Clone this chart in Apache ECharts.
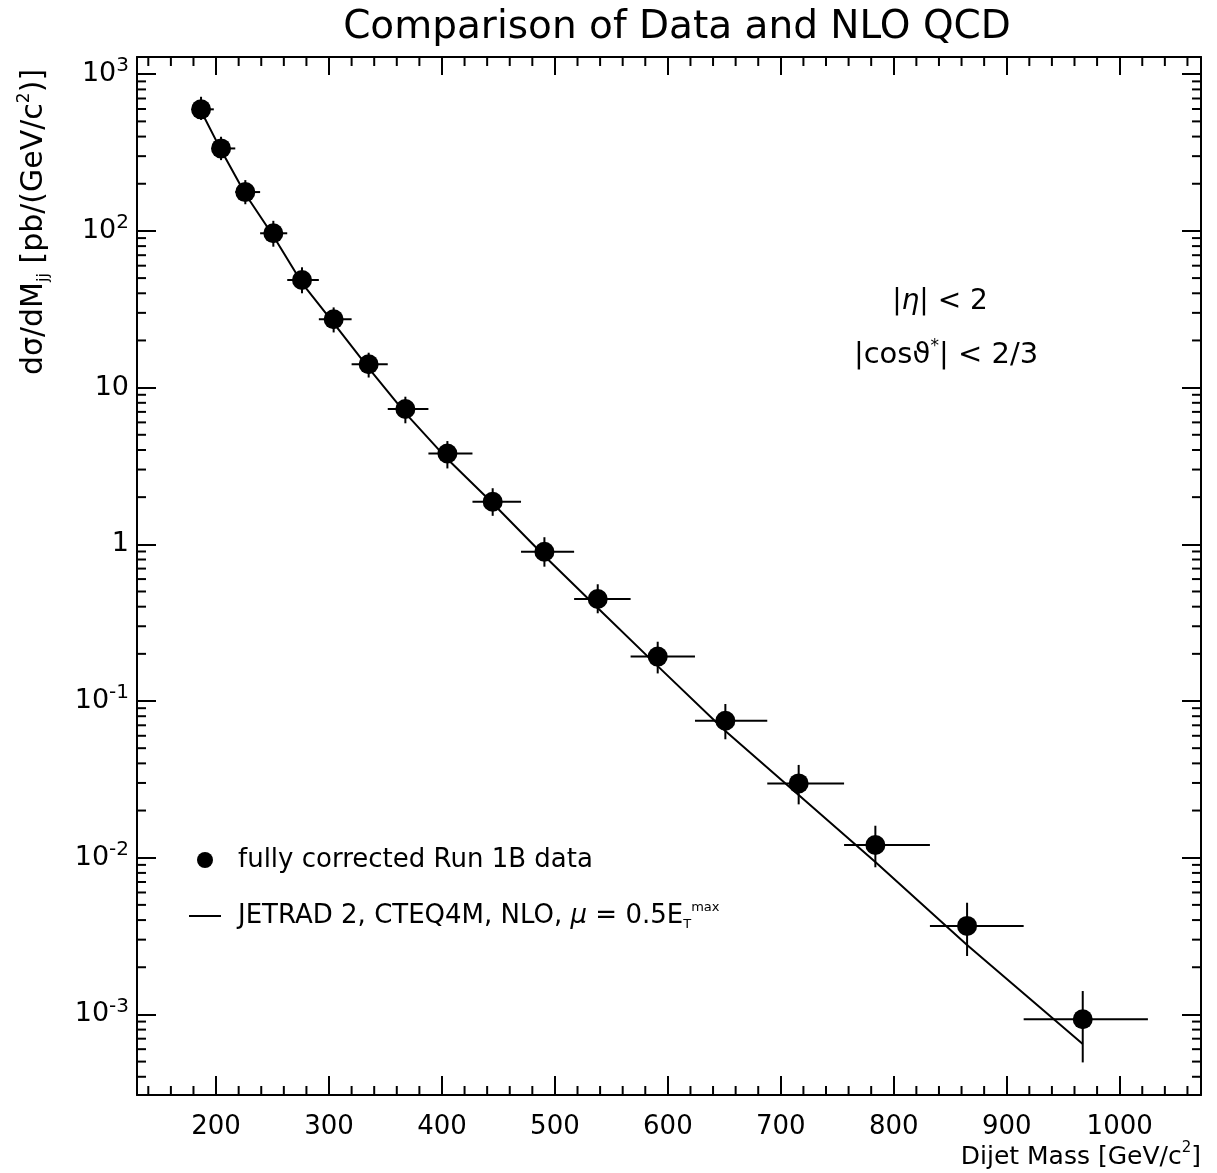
<!DOCTYPE html>
<html>
<head>
<meta charset="utf-8">
<title>Comparison of Data and NLO QCD</title>
<script src="https://cdn.jsdelivr.net/npm/echarts@6/dist/echarts.min.js"></script>
<style>
  html, body { margin: 0; padding: 0; background: #fff; }
  #mybox { width: 1217px; height: 1173px; }
</style>
</head>
<body>
<div id="mybox"></div>
<script>
// dijet mass bins [GeV/c^2] and measured cross section [pb/(GeV/c^2)]
var massCenter = [186.7, 204.4, 225.9, 250.7, 276.1, 304.1, 335.1, 367.6, 404.8, 444.9, 490.7, 537.9, 591.0, 650.9, 715.8, 783.7, 864.9, 967.3];
var massLow    = [180, 198, 217, 239, 263, 291, 320, 352, 388, 427, 470, 517, 567, 624, 688, 756, 832, 915];
var massHigh   = [198, 217, 239, 263, 291, 320, 352, 388, 427, 470, 517, 567, 624, 688, 756, 832, 915, 1025];
var sigma      = [597, 336, 177, 96.6, 48.6, 27.3, 14.1, 7.30, 3.80, 1.87, 0.897, 0.448, 0.192, 0.0748, 0.0298, 0.01205, 0.00367, 0.000931];
var sigmaHigh  = [718, 399, 211, 116, 58.6, 32.5, 16.7, 8.75, 4.56, 2.28, 1.11, 0.556, 0.239, 0.0957, 0.0391, 0.0160, 0.00516, 0.00141];
var sigmaLow   = [511, 283, 148, 79.3, 40.0, 22.5, 11.6, 5.92, 3.05, 1.52, 0.720, 0.363, 0.150, 0.0570, 0.0219, 0.00869, 0.00236, 0.000494];
// JETRAD NLO prediction at the same masses
var nloQcd     = [582, 328, 172, 92.8, 46.5, 25.8, 13.3, 6.88, 3.50, 1.83, 0.842, 0.392, 0.167, 0.0644, 0.0251, 0.00939, 0.00277, 0.000647];

// axes
var xMin = 130, xMax = 1072;
var yMin = 3.06e-4, yMax = 1288;
var xMajorTicks = [200, 300, 400, 500, 600, 700, 800, 900, 1000];
var yMajorTicks = [0.001, 0.01, 0.1, 1, 10, 100, 1000];

var xMinorTicks = [];
for (var v = 140; v < xMax; v += 20) {
    if (v % 100 !== 0) xMinorTicks.push(v);
}
var yMinorTicks = [];
for (var k = -4; k <= 3; k++) {
    for (var m = 2; m <= 9; m++) {
        var t = m * Math.pow(10, k);
        if (t > yMin && t < yMax) yMinorTicks.push(t);
    }
}

var FONT = "'DejaVu Sans', sans-serif";
var dataName = 'fully corrected Run 1B data';
var nloName = 'JETRAD 2, CTEQ4M, NLO';

function powLabel(val) {
    var e = Math.round(Math.log(val) / Math.LN10);
    if (e === 0) return '{b|1}';
    if (e === 1) return '{b|10}';
    return '{b|10}{s|' + e + '}';
}

var mycharts = echarts.init(document.getElementById('mybox'));

var black = '#000';
var axisLine = { show: true, onZero: false, lineStyle: { color: black, width: 2 } };

var optionObj = {
    animation: false,
    backgroundColor: '#fff',
    grid: { left: 137, right: 16, top: 57, bottom: 78, containLabel: false },
    legend: {
        orient: 'vertical',
        left: 184,
        top: 840,
        itemWidth: 32,
        itemHeight: 16,
        itemGap: 26,
        data: [
            { name: dataName, icon: 'circle' },
            { name: nloName, icon: 'path://M0,0 L32,0 L32,2 L0,2 Z' }
        ],
        formatter: function (name) {
            if (name === nloName) {
                return 'JETRAD 2, CTEQ4M, NLO, {i|\u03bc} = 0.5E{sub|T}{sup|max}';
            }
            return name;
        },
        textStyle: {
            color: black,
            fontFamily: FONT,
            fontSize: 26,
            lineHeight: 30,
            padding: [0, 0, 0, 12],
            rich: {
                i: { fontFamily: FONT, fontSize: 26, fontStyle: 'italic', lineHeight: 30 },
                sub: { fontFamily: FONT, fontSize: 13, lineHeight: 12, verticalAlign: 'bottom' },
                sup: { fontFamily: FONT, fontSize: 13, lineHeight: 12, verticalAlign: 'top' }
            }
        }
    },
    xAxis: [
        {
            type: 'value', position: 'bottom', min: xMin, max: xMax,
            axisLine: axisLine,
            axisTick: { show: true, inside: true, length: 19, customValues: xMajorTicks, lineStyle: { color: black, width: 2 } },
            axisLabel: {
                customValues: xMajorTicks, color: black, fontFamily: FONT, fontSize: 26, margin: 19,
                formatter: function (val) { return String(val); }
            },
            splitLine: { show: false }
        },
        {
            type: 'value', position: 'top', min: xMin, max: xMax,
            axisLine: axisLine,
            axisTick: { show: true, inside: true, length: 18, customValues: xMajorTicks, lineStyle: { color: black, width: 2 } },
            axisLabel: { show: false },
            splitLine: { show: false }
        }
    ],
    yAxis: [
        {
            type: 'log', logBase: 10, position: 'left', min: yMin, max: yMax,
            axisLine: axisLine,
            axisTick: { show: true, inside: true, length: 19, customValues: yMajorTicks, lineStyle: { color: black, width: 2 } },
            axisLabel: {
                customValues: yMajorTicks,
                margin: 8,
                formatter: powLabel,
                rich: {
                    b: { color: black, fontFamily: FONT, fontSize: 27, lineHeight: 36 },
                    s: { color: black, fontFamily: FONT, fontSize: 20, lineHeight: 16, verticalAlign: 'top' }
                }
            },
            splitLine: { show: false }
        },
        {
            type: 'log', logBase: 10, position: 'right', min: yMin, max: yMax,
            axisLine: axisLine,
            axisTick: { show: true, inside: true, length: 19, customValues: yMajorTicks, lineStyle: { color: black, width: 2 } },
            axisLabel: { show: false },
            splitLine: { show: false }
        }
    ],
    graphic: [
        {
            type: 'text', x: 677, y: 28,
            style: { text: 'Comparison of Data and NLO QCD', fill: black, font: '39px ' + FONT, align: 'center', verticalAlign: 'middle' }
        },
        {
            type: 'text', x: 34, y: 222, rotation: Math.PI / 2,
            style: {
                text: '{t|d\u03c3/dM}{sub|jj}{t| [pb/(GeV/c}{sup|2}{t|)]}',
                align: 'center', verticalAlign: 'middle', fill: black,
                rich: {
                    t: { fontFamily: FONT, fontSize: 30, lineHeight: 36, fill: black },
                    sub: { fontFamily: FONT, fontSize: 16, lineHeight: 16, verticalAlign: 'bottom', fill: black },
                    sup: { fontFamily: FONT, fontSize: 17, lineHeight: 16, verticalAlign: 'top', fill: black }
                }
            }
        },
        {
            type: 'text', x: 1201, y: 1157,
            style: {
                text: '{t|Dijet Mass [GeV/c}{sup|2}{t|]}',
                align: 'right', verticalAlign: 'middle', fill: black,
                rich: {
                    t: { fontFamily: FONT, fontSize: 25, lineHeight: 32, fill: black },
                    sup: { fontFamily: FONT, fontSize: 15, lineHeight: 16, verticalAlign: 'top', fill: black }
                }
            }
        },
        {
            type: 'text', x: 940, y: 302,
            style: {
                text: '{t||}{i|\u03b7}{t|| < 2}',
                align: 'center', verticalAlign: 'middle', fill: black,
                rich: {
                    t: { fontFamily: FONT, fontSize: 28, lineHeight: 34, fill: black },
                    i: { fontFamily: FONT, fontSize: 28, lineHeight: 34, fontStyle: 'italic', fill: black }
                }
            }
        },
        {
            type: 'text', x: 946, y: 355,
            style: {
                text: '{t||cos}{t|\u03d1}{sup|*}{t|| < 2/3}',
                align: 'center', verticalAlign: 'middle', fill: black,
                rich: {
                    t: { fontFamily: FONT, fontSize: 29, lineHeight: 34, fill: black },
                    sup: { fontFamily: FONT, fontSize: 17, lineHeight: 16, verticalAlign: 'top', fill: black }
                }
            }
        }
    ],
    series: [
        {
            // minor ticks on all four sides, placed through the axis scales
            type: 'custom',
            name: 'minorTicks',
            silent: true,
            xAxisIndex: 0, yAxisIndex: 0,
            data: [[500, 1]],
            renderItem: function (params, api) {
                var cs = params.coordSys;
                var left = cs.x, right = cs.x + cs.width, top = cs.y, bottom = cs.y + cs.height;
                var st = { stroke: black, lineWidth: 2 };
                var kids = [];
                xMinorTicks.forEach(function (val) {
                    var px = api.coord([val, 1])[0];
                    kids.push({ type: 'line', shape: { x1: px, y1: bottom, x2: px, y2: bottom - 9 }, style: st });
                    kids.push({ type: 'line', shape: { x1: px, y1: top, x2: px, y2: top + 9 }, style: st });
                });
                yMinorTicks.forEach(function (val) {
                    var py = api.coord([500, val])[1];
                    kids.push({ type: 'line', shape: { x1: left, y1: py, x2: left + 9, y2: py }, style: st });
                    kids.push({ type: 'line', shape: { x1: right, y1: py, x2: right - 9, y2: py }, style: st });
                });
                return { type: 'group', children: kids };
            }
        },
        {
            name: nloName,
            type: 'line',
            xAxisIndex: 0, yAxisIndex: 0,
            symbol: 'none',
            showSymbol: false,
            lineStyle: { color: black, width: 2 },
            itemStyle: { color: black },
            data: massCenter.map(function (x, i) { return [x, nloQcd[i]]; }),
            z: 2
        },
        {
            // error bars: bin width and total uncertainty
            type: 'custom',
            name: 'errors',
            xAxisIndex: 0, yAxisIndex: 0,
            encode: { x: 0, y: 1 },
            data: massCenter.map(function (x, i) {
                return [x, sigma[i], massLow[i], massHigh[i], sigmaLow[i], sigmaHigh[i]];
            }),
            renderItem: function (params, api) {
                var c = api.coord([api.value(0), api.value(1)]);
                var l = api.coord([api.value(2), api.value(1)]);
                var r = api.coord([api.value(3), api.value(1)]);
                var lo = api.coord([api.value(0), api.value(4)]);
                var hi = api.coord([api.value(0), api.value(5)]);
                var st = { stroke: black, lineWidth: 2 };
                return {
                    type: 'group',
                    children: [
                        { type: 'line', shape: { x1: l[0], y1: c[1], x2: r[0], y2: c[1] }, style: st },
                        { type: 'line', shape: { x1: c[0], y1: lo[1], x2: c[0], y2: hi[1] }, style: st }
                    ]
                };
            },
            z: 3
        },
        {
            name: dataName,
            type: 'scatter',
            xAxisIndex: 0, yAxisIndex: 0,
            symbol: 'circle',
            symbolSize: 20,
            itemStyle: { color: black, opacity: 1 },
            data: massCenter.map(function (x, i) { return [x, sigma[i]]; }),
            z: 4
        }
    ]
};

mycharts.setOption(optionObj);
</script>
</body>
</html>
